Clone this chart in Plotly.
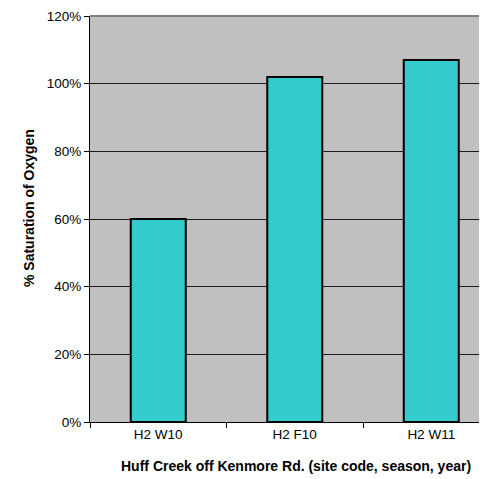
import plotly.graph_objects as go

categories = ["H2 W10", "H2 F10", "H2 W11"]
values = [60, 102, 107]
y_ticks = [0, 20, 40, 60, 80, 100, 120]
y_tick_labels = ["0%", "20%", "40%", "60%", "80%", "100%", "120%"]

L, T, B = 82, 8, 57
W, H = 479, 471
plot_w = W - L
plot_h = H - T - B

fig = go.Figure()
fig.add_trace(go.Bar(
    x=categories, y=values, width=0.403,
    marker=dict(color="#33CCCC", line=dict(color="black", width=2)),
))

fig.update_layout(
    width=W, height=H,
    margin=dict(l=L, r=0, t=T, b=B, pad=0),
    paper_bgcolor="white", plot_bgcolor="#C0C0C0",
    font=dict(family="Liberation Sans, Arial, sans-serif", size=13.5, color="black"),
    showlegend=False,
    xaxis=dict(
        type="category", range=[-0.5, -0.5 + plot_w / 136.5],
        tickson="boundaries", ticks="outside", ticklen=5, tickcolor="black",
        showline=True, linecolor="black", linewidth=1,
        showgrid=False, tickfont=dict(size=13.5),
    ),
    yaxis=dict(
        range=[0, 120], tickvals=y_ticks, ticktext=y_tick_labels,
        ticks="outside", ticklen=5, tickcolor="black",
        showline=True, linecolor="black", linewidth=1,
        showgrid=True, gridcolor="#1a1a1a", gridwidth=1, zeroline=False,
        tickfont=dict(size=13.5),
    ),
    annotations=[
        dict(
            text="<b>Huff Creek off Kenmore Rd. (site code, season, year)</b>",
            xref="paper", yref="paper",
            x=(288 - L) / plot_w, y=(plot_h + T - 458) / plot_h,
            xanchor="center", yanchor="middle", showarrow=False, font=dict(size=14),
        ),
        dict(
            text="<b>% Saturation of Oxygen</b>",
            xref="paper", yref="paper", textangle=-90,
            x=(21 - L) / plot_w, y=(plot_h + T - 200) / plot_h,
            xanchor="center", yanchor="middle", showarrow=False, font=dict(size=14),
        ),
    ],
    shapes=[dict(type="line", xref="paper", yref="paper", x0=0, x1=1, y0=1, y1=1,
                 line=dict(color="#808080", width=2))],
)

fig.write_html("out.html")
